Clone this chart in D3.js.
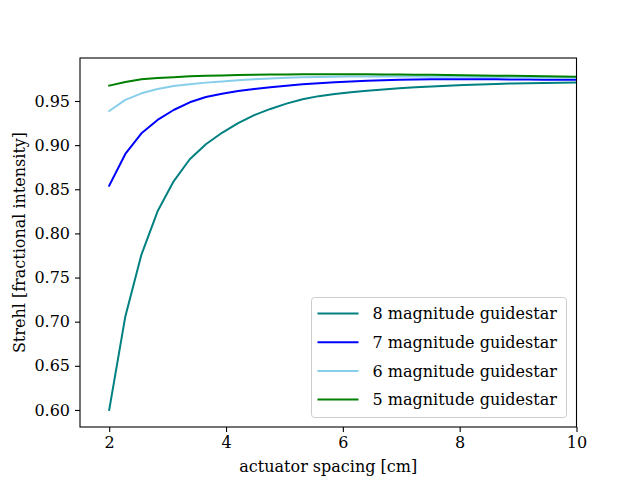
<!DOCTYPE html>
<html>
<head>
<meta charset="utf-8">
<script src="https://cdn.jsdelivr.net/npm/d3@7"></script>
<style>
  body { margin: 0; background: #fff; }
  text { font-family: "DejaVu Serif", serif; fill: #000; }
</style>
</head>
<body>
<svg id="chart" width="640" height="480"></svg>
<script>
// actuator spacing [cm], 30 samples from 2 to 10
var spacing = [2.000, 2.276, 2.552, 2.828, 3.103, 3.379, 3.655, 3.931, 4.207, 4.483,
               4.759, 5.034, 5.310, 5.586, 5.862, 6.138, 6.414, 6.690, 6.966, 7.241,
               7.517, 7.793, 8.069, 8.345, 8.621, 8.897, 9.172, 9.448, 9.724, 10.000];

var mag8 = [0.600, 0.706, 0.776, 0.825, 0.859, 0.884, 0.901, 0.914, 0.925, 0.934,
            0.941, 0.947, 0.952, 0.9555, 0.958, 0.960, 0.9615, 0.963, 0.9643, 0.9655,
            0.9665, 0.9674, 0.9681, 0.9688, 0.9693, 0.9698, 0.9702, 0.9705, 0.9708, 0.971];

var mag7 = [0.854, 0.890, 0.9134, 0.9285, 0.9398, 0.9485, 0.9545, 0.9582, 0.9612, 0.9637,
            0.9657, 0.9674, 0.9689, 0.9701, 0.9712, 0.9721, 0.9729, 0.9735, 0.974, 0.9743,
            0.9745, 0.9746, 0.9746, 0.9746, 0.9745, 0.9744, 0.9743, 0.9742, 0.9741, 0.974];

var mag6 = [0.9387, 0.9512, 0.9587, 0.9636, 0.967, 0.969, 0.9708, 0.9722, 0.9735, 0.9745,
            0.9755, 0.9762, 0.9768, 0.9772, 0.9775, 0.9777, 0.9778, 0.9778, 0.9778, 0.9777,
            0.9776, 0.9775, 0.9774, 0.9773, 0.9771, 0.977, 0.9769, 0.9767, 0.9766, 0.9765];

var mag5 = [0.9674, 0.9715, 0.9746, 0.9761, 0.977, 0.978, 0.9786, 0.979, 0.9794, 0.9797,
            0.9799, 0.9801, 0.9802, 0.9803, 0.9803, 0.9803, 0.9802, 0.9801, 0.980, 0.9798,
            0.9796, 0.9794, 0.9792, 0.9789, 0.9787, 0.9785, 0.9783, 0.978, 0.9778, 0.9776];

var seriesNames = ["8 magnitude guidestar", "7 magnitude guidestar",
                   "6 magnitude guidestar", "5 magnitude guidestar"];
var seriesColors = ["#008080", "#0000ff", "#87ceeb", "#008000"];
var seriesValues = [mag8, mag7, mag6, mag5];

var xTicks = [2, 4, 6, 8, 10];
var yTicks = [0.60, 0.65, 0.70, 0.75, 0.80, 0.85, 0.90, 0.95];

var svg = d3.select("#chart");
var box = {left: 80, right: 576.5, top: 58, bottom: 427};

var x = d3.scaleLinear().domain([1.5, 10]).range([box.left, box.right]);
var y = d3.scaleLinear().domain([0.5807, 0.9987]).range([box.bottom, box.top]);

// Curves
var line = d3.line()
    .x(function(d, i) { return x(spacing[i]); })
    .y(function(d) { return y(d); });

var plot = svg.append("g");
plot.append("clipPath").attr("id", "clip")
    .append("rect").attr("x", box.left).attr("y", box.top)
    .attr("width", box.right - box.left).attr("height", box.bottom - box.top);

seriesValues.forEach(function(vals, k) {
    plot.append("path")
        .attr("d", line(vals))
        .attr("clip-path", "url(#clip)")
        .style("fill", "none")
        .style("stroke", seriesColors[k])
        .style("stroke-width", 2)
        .style("stroke-linejoin", "round")
        .style("stroke-linecap", "square");
});

// Axes
var xAxis = svg.append("g")
    .attr("transform", "translate(0," + box.bottom + ")")
    .call(d3.axisBottom(x).tickValues(xTicks).tickSize(5).tickPadding(5).tickFormat(d3.format("d")));
var yAxis = svg.append("g")
    .attr("transform", "translate(" + box.left + ",0)")
    .call(d3.axisLeft(y).tickValues(yTicks).tickSize(5).tickPadding(5).tickFormat(d3.format(".2f")));

[xAxis, yAxis].forEach(function(a) {
    a.select(".domain").remove();
    a.selectAll(".tick line").style("stroke", "#000").style("stroke-width", 1.1);
    a.selectAll(".tick text").style("font-size", "16px").style("font-family", "DejaVu Serif");
});

// Frame
svg.append("rect")
    .attr("x", box.left).attr("y", box.top)
    .attr("width", box.right - box.left).attr("height", box.bottom - box.top)
    .style("fill", "none").style("stroke", "#000").style("stroke-width", 1.1);

// Axis labels
svg.append("text")
    .attr("x", (box.left + box.right) / 2).attr("y", 472)
    .attr("text-anchor", "middle")
    .style("font-size", "16px")
    .text("actuator spacing [cm]");

svg.append("text")
    .attr("transform", "translate(25," + (box.top + box.bottom) / 2 + ") rotate(-90)")
    .attr("text-anchor", "middle")
    .style("font-size", "16px")
    .text("Strehl [fractional intensity]");

// Legend
var legend = svg.append("g").attr("transform", "translate(311.5,297.5)");
legend.append("rect")
    .attr("width", 255).attr("height", 120)
    .attr("rx", 3).attr("ry", 3)
    .style("fill", "#fff").style("fill-opacity", 0.8)
    .style("stroke", "#cccccc").style("stroke-width", 1);

seriesNames.forEach(function(name, k) {
    var row = legend.append("g").attr("transform", "translate(0," + (16 + k * 28.7) + ")");
    row.append("line")
        .attr("x1", 6).attr("x2", 47)
        .style("stroke", seriesColors[k]).style("stroke-width", 2);
    row.append("text")
        .attr("x", 61).attr("dy", "0.35em")
        .style("font-size", "16px")
        .text(name);
});
</script>
</body>
</html>
